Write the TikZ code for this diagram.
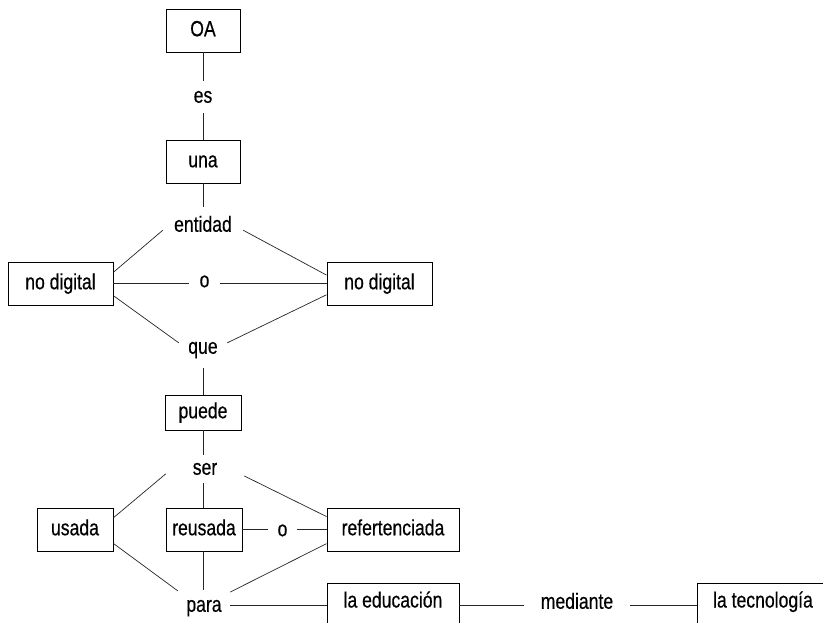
\documentclass[tikz,border=0pt]{standalone}
\usepackage{fontspec}
\setmainfont{Liberation Sans}[FakeStretch=0.8,FakeBold=0.4]
\begin{document}
\begin{tikzpicture}[x=1pt,y=-1pt,
  every node/.style={font=\fontsize{22}{26}\selectfont, text height=16pt, text depth=4.5pt, inner sep=0pt},
  box/.style={draw, line width=0.9pt, minimum height=43pt},
  lowbox/.style={box, minimum height=44pt, text depth=11pt},
  lbl/.style={},
  conn/.style={line width=0.7pt, draw=black!85}]
\useasboundingbox (0,0) rectangle (823,622);
\clip (0,0) rectangle (823,622);
\fill[white] (0,0) rectangle (823,622);
% nodes
\node[box, minimum width=74pt] (oa) at (203,30.5) {OA};
\node[lbl, minimum width=30pt, minimum height=32pt] (es) at (203,97) {es};
\node[box, minimum width=74pt] (una) at (203,161.5) {una};
\node[lbl, minimum width=80pt, minimum height=38pt] (ent) at (203,226) {entidad};
\node[box, minimum width=105pt] (ndl) at (60.5,283.5) {no digital};
\node[lbl, minimum width=31pt, minimum height=30pt] (o1) at (204.5,281.5) {o};
\node[box, minimum width=105pt] (ndr) at (379.5,283.5) {no digital};
\node[lbl, minimum width=48pt, minimum height=40pt] (que) at (203,348) {que};
\node[box, minimum width=76pt, minimum height=35pt] (puede) at (203,412.5) {puede};
\node[lbl, minimum width=78pt, minimum height=28pt] (ser) at (205,469) {ser};
\node[box, minimum width=76pt] (usada) at (75,529.5) {usada};
\node[box, minimum width=76pt] (reus) at (204,529.5) {reusada};
\node[lbl, minimum width=29pt, minimum height=30pt] (o2) at (282.5,530.5) {o};
\node[box, minimum width=132pt] (ref) at (393,529.5) {refertenciada};
\node[lbl, minimum width=52pt, minimum height=32pt] (para) at (204,606) {para};
\node[lowbox, minimum width=132pt] (edu) at (393,605) {la educación};
\node[lbl, minimum width=106pt, minimum height=30pt] (med) at (577,603) {mediante};
\node[lowbox, minimum width=132pt] (tec) at (763,605) {la tecnología};
% connectors
\draw[conn] (oa.south) -- (es.north);
\draw[conn] (es.south) -- (una.north);
\draw[conn] (una.south) -- (ent.north);
\draw[conn] (ndl.12) -- (ent.186);
\draw[conn] (ent.354) -- (ndr.171);
\draw[conn] (ndl.east) -- (ndl.east -| o1.west);
\draw[conn] (ndr.west -| o1.east) -- (ndr.west);
\draw[conn] (ndl.-13) -- (que.168);
\draw[conn] (que.12) -- (ndr.192);
\draw[conn] (que.south) -- (puede.north);
\draw[conn] (puede.south) -- (puede.south |- ser.north);
\draw[conn] (puede.south |- ser.south) -- (puede.south |- reus.north);
\draw[conn] (ser.187) -- (usada.17);
\draw[conn] (ser.350) -- (ref.169);
\draw[conn] (reus.east) -- (reus.east -| o2.west);
\draw[conn] (ref.west -| o2.east) -- (ref.west);
\draw[conn] (usada.340) -- (para.150);
\draw[conn] (puede.south |- reus.south) -- (puede.south |- para.north);
\draw[conn] (ref.192) -- (para.28);
\draw[conn] (para.east |- edu.west) -- (edu.west);
\draw[conn] (edu.east) -- (edu.east -| med.west);
\draw[conn] (tec.west -| med.east) -- (tec.west);
\end{tikzpicture}
\end{document}
